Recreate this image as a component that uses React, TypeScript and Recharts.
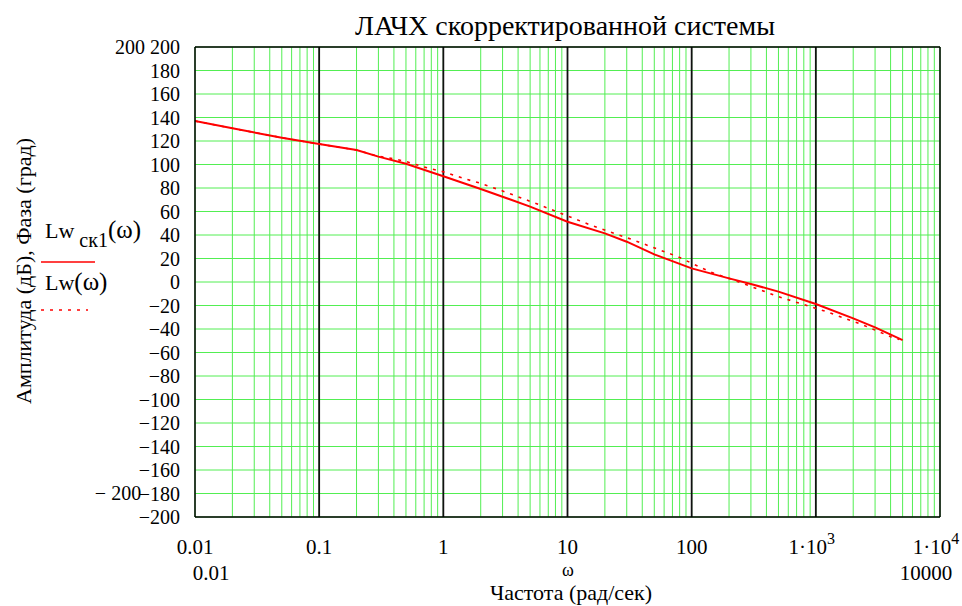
import React from "react";
import { LineChart, Line, XAxis, YAxis, CartesianGrid, ReferenceLine } from "recharts";

const FONT = "'Liberation Serif', 'DejaVu Serif', 'Times New Roman', Times, serif";
const GREEN = "#52ee52";
const RED = "#ff0000";

// corrected system Lw_ск1(ω), solid
const solidFreq = [0.01, 0.02, 0.05, 0.1, 0.2, 0.3, 0.5, 1, 2, 3, 5, 10, 20, 30, 50, 100, 200, 300, 500, 1000, 2000, 3000, 5000];
const solidDb = [137, 130.8, 122.8, 117.4, 112.3, 106.7, 100.6, 90, 79.2, 72.6, 64.1, 51.3, 41.4, 34.3, 23.5, 11.6, 3.1, -1.7, -8.2, -18.7, -30.9, -38.6, -49.4];

// original system Lw(ω), dotted
const dottedFreq = [0.01, 0.02, 0.05, 0.1, 0.2, 0.3, 0.35, 0.5, 0.7, 1, 1.5, 2, 3, 6, 10, 16, 34, 77, 140, 220, 500, 1200, 2400, 4000, 4700];
const dottedDb = [137, 130.8, 122.8, 117.4, 112.3, 106.9, 106, 102.6, 97.8, 93.8, 87.7, 84, 77.5, 65.5, 56.2, 47.7, 35.7, 21.6, 8.8, 1.5, -12.5, -25, -36.6, -46.5, -49];

const decades = [0.01, 0.1, 1, 10, 100, 1000, 10000];
const decadeLabels = ["0.01", "0.1", "1", "10", "100", "1·10^3", "1·10^4"];
const yTicks = [-200, -180, -160, -140, -120, -100, -80, -60, -40, -20, 0, 20, 40, 60, 80, 100, 120, 140, 160, 180, 200];

const solidData = solidFreq.map((f, i) => ({ f, db: solidDb[i] }));
const dottedData = dottedFreq.map((f, i) => ({ f, db: dottedDb[i] }));

// log grid: 1..9 in every decade
const gridTicks = decades
  .slice(0, -1)
  .flatMap((d) => [1, 2, 3, 4, 5, 6, 7, 8, 9].map((k) => +(k * d).toPrecision(6)))
  .concat([10000]);

function XTick(props: any) {
  const { x, y, payload } = props;
  const i = decades.findIndex((d) => Math.abs(d - payload.value) / d < 1e-6);
  if (i < 0) return <g />;
  const [base, sup] = decadeLabels[i].split("^");
  return (
    <text x={sup ? x - 4 : x} y={y + 29} textAnchor="middle" style={{ fontFamily: FONT }} fontSize={21} fill="#000">
      {base}
      {sup && (
        <tspan dy={-10} fontSize={16}>
          {sup}
        </tspan>
      )}
    </text>
  );
}

const fmtY = (v: number) => (v < 0 ? "\u2212" + Math.abs(v) : String(v));

export default function App() {
  return (
    <div style={{ position: "absolute", left: 0, top: 0, width: 962, height: 606, background: "#fff", fontFamily: FONT }}>
      <LineChart width={962} height={606} margin={{ top: 47, right: 22, bottom: 59, left: 135 }}>
        <CartesianGrid stroke={GREEN} strokeWidth={1} />
        <XAxis
          dataKey="f"
          type="number"
          scale="log"
          domain={[0.01, 10000]}
          allowDataOverflow
          ticks={gridTicks}
          interval={0}
          tick={<XTick />}
          tickLine={false}
          height={30}
          axisLine={{ stroke: "#000", strokeWidth: 1.5 }}
        />
        <YAxis
          type="number"
          domain={[-200, 200]}
          ticks={yTicks}
          interval={0}
          tickFormatter={fmtY}
          tickLine={false}
          tickMargin={9}
          width={60}
          axisLine={{ stroke: "#000", strokeWidth: 1.5 }}
          tick={{ fontSize: 20, fill: "#000", style: { fontFamily: FONT } }}
        />
        {decades.slice(1, -1).map((d) => (
          <ReferenceLine key={d} x={d} stroke="#111" strokeWidth={1.8} />
        ))}
        <ReferenceLine x={10000} stroke="#000" strokeWidth={1.5} />
        <ReferenceLine y={200} stroke="#000" strokeWidth={1.5} />
        <Line
          data={dottedData}
          dataKey="db"
          type="linear"
          stroke={RED}
          strokeWidth={1.6}
          strokeDasharray="3 6"
          dot={false}
          isAnimationActive={false}
        />
        <Line
          data={solidData}
          dataKey="db"
          type="linear"
          stroke={RED}
          strokeWidth={2}
          dot={false}
          isAnimationActive={false}
        />
      </LineChart>
      <svg
        width={962}
        height={606}
        style={{ position: "absolute", left: 0, top: 0, pointerEvents: "none", fontFamily: FONT }}
        fill="#000"
      >
        <text x={565} y={35} textAnchor="middle" fontSize={28}>
          ЛАЧХ скорректированной системы
        </text>
        <text x={31} y={271} textAnchor="middle" fontSize={22} transform="rotate(-90 31 271)">
          Амплитуда (дБ), Фаза (град)
        </text>
        <text x={130} y={54} textAnchor="middle" fontSize={20}>
          200
        </text>
        <text x={118} y={500} textAnchor="middle" fontSize={20}>
          {"\u2212 200"}
        </text>
        <text x={211} y={580} textAnchor="middle" fontSize={21}>
          0.01
        </text>
        <text x={568} y={576} textAnchor="middle" fontSize={18}>
          ω
        </text>
        <text x={926} y={580} textAnchor="middle" fontSize={21}>
          10000
        </text>
        <text x={571} y={600} textAnchor="middle" fontSize={22}>
          Частота (рад/сек)
        </text>
        {/* legend */}
        <text x={45} y={238} fontSize={22}>
          Lw
          <tspan fontSize={20} dx={5} dy={9}>
            ск1
          </tspan>
          <tspan fontSize={25} dy={-9}>
            (ω)
          </tspan>
        </text>
        <line x1={41} y1={262} x2={95} y2={262} stroke={RED} strokeWidth={1.6} />
        <text x={45} y={290} fontSize={22}>
          Lw
          <tspan fontSize={25}>(ω)</tspan>
        </text>
        <line x1={41} y1={310} x2={88} y2={310} stroke={RED} strokeWidth={1.6} strokeDasharray="3 6" />
      </svg>
    </div>
  );
}
